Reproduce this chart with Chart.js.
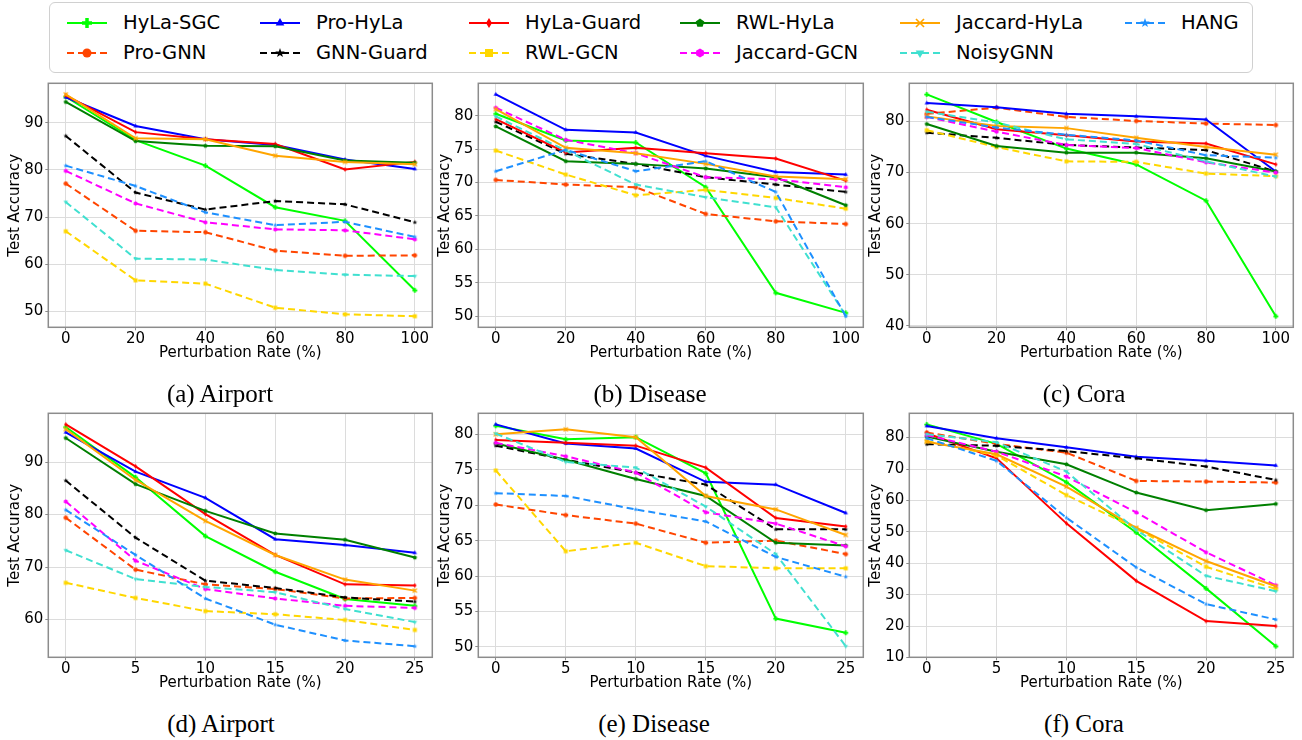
<!DOCTYPE html>
<html>
<head>
<meta charset="utf-8">
<script src="https://cdn.jsdelivr.net/npm/chart.js@4.4.1/dist/chart.umd.min.js"></script>
<style>
  body { margin: 0; width: 1302px; height: 740px; background: #fff; position: relative; overflow: hidden; font-family: "DejaVu Sans", sans-serif; }
  canvas.panel { position: absolute; }
  .caption { position: absolute; font-family: "Liberation Serif", serif; font-size: 25px; line-height: 1; white-space: nowrap; transform: translate(-50%, -50%); color: #000; }
  #legendBox { position: absolute; left: 49px; top: 2px; width: 1202px; height: 69px; border: 1px solid #d0d0d0; border-radius: 6px; }
  .lgIcon { position: absolute; }
  .lgText { position: absolute; font-size: 19.5px; line-height: 1; white-space: nowrap; transform: translateY(-50%); color: #000; }
</style>
</head>
<body>
<div id="legendBox"></div>

<script>
// methods, in the order they were plotted
const methods = ['HyLa-SGC', 'Pro-GNN', 'Pro-HyLa', 'GNN-Guard', 'HyLa-Guard', 'RWL-GCN',
                 'RWL-HyLa', 'Jaccard-GCN', 'Jaccard-HyLa', 'NoisyGNN', 'HANG'];

// perturbation rates (%)
const ratesTop = [0, 20, 40, 60, 80, 100];
const ratesBottom = [0, 5, 10, 15, 20, 25];

// test accuracy, one row per method (same order as methods)
const airportTop = [
  [95.5, 86.3, 80.9, 72.1, 69.2, 54.5],
  [77.1, 67.1, 66.8, 62.9, 61.8, 61.9],
  [95.4, 89.3, 86.5, 85.3, 82.2, 80.2],
  [87.2, 75.2, 71.6, 73.4, 72.7, 68.9],
  [95.8, 88.0, 86.5, 85.5, 80.1, 81.7],
  [67.0, 56.6, 55.9, 50.8, 49.4, 49.0],
  [94.4, 86.1, 85.1, 85.0, 82.0, 81.5],
  [79.8, 72.9, 68.9, 67.4, 67.2, 65.3],
  [96.0, 86.7, 86.5, 83.0, 81.7, 81.2],
  [73.2, 61.2, 61.0, 58.8, 57.8, 57.5],
  [80.9, 76.6, 71.0, 68.3, 69.0, 65.8]
];
const diseaseTop = [
  [80.3, 76.3, 76.0, 69.3, 53.5, 50.5],
  [70.4, 69.7, 69.3, 65.3, 64.2, 63.8],
  [83.2, 77.9, 77.5, 74.0, 71.6, 71.2],
  [79.1, 74.3, 72.8, 70.8, 69.7, 68.6],
  [79.5, 74.5, 75.2, 74.4, 73.6, 70.3],
  [74.8, 71.2, 68.1, 68.9, 67.7, 66.1],
  [78.4, 73.2, 72.8, 72.1, 70.8, 66.6],
  [81.2, 76.4, 74.4, 70.8, 70.5, 69.3],
  [81.0, 75.2, 74.4, 72.8, 70.9, 70.5],
  [79.9, 74.8, 69.7, 67.8, 66.3, 50.1],
  [71.7, 74.9, 71.7, 73.2, 68.6, 50.0]
];
const coraTop = [
  [85.3, 79.9, 74.7, 71.6, 64.5, 41.9],
  [81.5, 82.7, 80.9, 80.1, 79.6, 79.3],
  [83.6, 82.8, 81.5, 81.0, 80.4, 70.2],
  [77.8, 76.8, 75.4, 74.9, 74.4, 70.2],
  [82.3, 78.5, 77.3, 76.1, 75.7, 71.6],
  [78.3, 75.0, 72.2, 72.1, 69.8, 69.3],
  [79.5, 75.2, 73.9, 73.9, 72.8, 70.2],
  [80.9, 78.0, 75.4, 74.8, 72.0, 70.0],
  [81.0, 79.1, 78.7, 76.8, 75.0, 73.5],
  [81.9, 79.8, 76.5, 75.6, 72.2, 69.2],
  [80.9, 78.8, 77.4, 76.3, 73.4, 72.9]
];
const airportBottom = [
  [96.7, 87.1, 75.9, 69.1, 63.9, 62.6],
  [79.4, 69.5, 66.7, 65.8, 64.0, 64.1],
  [95.7, 88.2, 83.2, 75.3, 74.2, 72.7],
  [86.5, 75.6, 67.4, 66.0, 64.2, 63.4],
  [97.2, 89.2, 80.1, 72.3, 66.7, 66.5],
  [67.0, 64.1, 61.6, 61.0, 59.9, 58.0],
  [94.6, 85.8, 80.7, 76.4, 75.2, 71.8],
  [82.5, 71.2, 65.8, 64.0, 62.6, 62.2],
  [96.3, 86.6, 78.8, 72.3, 67.6, 65.5],
  [73.2, 67.7, 66.2, 65.2, 62.0, 59.5],
  [80.9, 72.3, 64.0, 59.0, 56.0, 54.9]
];
const diseaseBottom = [
  [81.2, 79.3, 79.6, 74.5, 54.0, 52.0],
  [70.1, 68.6, 67.4, 64.7, 65.0, 63.1],
  [81.4, 78.7, 78.0, 73.3, 72.9, 68.9],
  [78.4, 76.4, 74.6, 72.9, 66.6, 66.6],
  [79.2, 78.8, 78.4, 75.3, 68.2, 67.0],
  [74.9, 63.5, 64.7, 61.4, 61.1, 61.1],
  [78.7, 76.4, 73.7, 71.3, 64.7, 64.3],
  [78.8, 76.9, 74.6, 69.0, 67.4, 64.2],
  [80.0, 80.7, 79.6, 71.3, 69.4, 65.8],
  [80.1, 76.1, 75.3, 69.8, 63.1, 50.1],
  [71.7, 71.3, 69.4, 67.7, 62.7, 59.9]
];
const coraBottom = [
  [84.2, 78.0, 65.8, 49.8, 32.0, 13.6],
  [81.6, 78.0, 75.2, 66.2, 66.0, 65.7],
  [83.7, 79.8, 76.9, 73.9, 72.6, 71.1],
  [77.9, 77.4, 75.7, 73.4, 70.8, 66.5],
  [81.4, 73.4, 52.7, 34.4, 21.6, 20.0],
  [78.9, 74.3, 61.7, 51.1, 38.9, 31.8],
  [80.3, 75.5, 71.5, 62.5, 56.9, 58.9],
  [80.8, 75.5, 67.6, 56.2, 43.5, 33.0],
  [78.7, 74.7, 64.4, 51.3, 40.7, 32.7],
  [81.1, 78.5, 69.2, 50.6, 36.0, 31.1],
  [79.8, 72.6, 54.5, 38.7, 27.0, 22.1]
];

// y tick labels per panel
const ticksAirportTop = [50, 60, 70, 80, 90];
const ticksDiseaseTop = [50, 55, 60, 65, 70, 75, 80];
const ticksCoraTop = [40, 50, 60, 70, 80];
const ticksAirportBottom = [60, 70, 80, 90];
const ticksDiseaseBottom = [50, 55, 60, 65, 70, 75, 80];
const ticksCoraBottom = [10, 20, 30, 40, 50, 60, 70, 80];

const captions = ['(a) Airport', '(b) Disease', '(c) Cora', '(d) Airport', '(e) Disease', '(f) Cora'];

// look of each method
const styles = {
  'HyLa-SGC':     { color: '#00ff00', dashed: false, marker: 'plus' },
  'Pro-GNN':      { color: '#ff4500', dashed: true,  marker: 'circle' },
  'Pro-HyLa':     { color: '#0000ff', dashed: false, marker: 'triUp' },
  'GNN-Guard':    { color: '#000000', dashed: true,  marker: 'star' },
  'HyLa-Guard':   { color: '#ff0000', dashed: false, marker: 'thinDiamond' },
  'RWL-GCN':      { color: '#ffd700', dashed: true,  marker: 'square' },
  'RWL-HyLa':     { color: '#008000', dashed: false, marker: 'pentagon' },
  'Jaccard-GCN':  { color: '#ff00ff', dashed: true,  marker: 'hexagon' },
  'Jaccard-HyLa': { color: '#ffa500', dashed: false, marker: 'x' },
  'NoisyGNN':     { color: '#40e0d0', dashed: true,  marker: 'triDown' },
  'HANG':         { color: '#1e90ff', dashed: true,  marker: 'star' }
};
const dashPattern = [7, 4];

function poly(ctx, n, r, start) {
  for (let k = 0; k < n; k++) {
    const a = start + k * 2 * Math.PI / n;
    if (k === 0) ctx.moveTo(r * Math.cos(a), r * Math.sin(a));
    else ctx.lineTo(r * Math.cos(a), r * Math.sin(a));
  }
  ctx.closePath();
}

function markerCanvas(shape, color, size) {
  const s = Math.ceil(size) + 4;
  const c = document.createElement('canvas');
  c.width = s; c.height = s;
  const ctx = c.getContext('2d');
  ctx.translate(s / 2, s / 2);
  ctx.fillStyle = color;
  ctx.strokeStyle = color;
  const r = size / 2;
  ctx.beginPath();
  if (shape === 'circle') ctx.arc(0, 0, r * 0.9, 0, Math.PI * 2);
  else if (shape === 'square') ctx.rect(-r * 0.8, -r * 0.8, r * 1.6, r * 1.6);
  else if (shape === 'triUp') poly(ctx, 3, r, -Math.PI / 2);
  else if (shape === 'triDown') poly(ctx, 3, r, Math.PI / 2);
  else if (shape === 'pentagon') poly(ctx, 5, r * 0.9, -Math.PI / 2);
  else if (shape === 'hexagon') poly(ctx, 6, r * 0.9, -Math.PI / 2);
  else if (shape === 'star') {
    for (let k = 0; k < 10; k++) {
      const a = -Math.PI / 2 + k * Math.PI / 5;
      const rr = k % 2 === 0 ? r : r * 0.4;
      if (k === 0) ctx.moveTo(rr * Math.cos(a), rr * Math.sin(a));
      else ctx.lineTo(rr * Math.cos(a), rr * Math.sin(a));
    }
    ctx.closePath();
  } else if (shape === 'thinDiamond') {
    ctx.moveTo(0, -r); ctx.lineTo(r * 0.6, 0); ctx.lineTo(0, r); ctx.lineTo(-r * 0.6, 0); ctx.closePath();
  } else if (shape === 'plus') {
    const w = r * 0.35;
    ctx.rect(-r, -w, 2 * r, 2 * w);
    ctx.rect(-w, -r, 2 * w, 2 * r);
  }
  if (shape === 'x') {
    ctx.lineWidth = Math.max(1.2, size / 6);
    ctx.moveTo(-r * 0.8, -r * 0.8); ctx.lineTo(r * 0.8, r * 0.8);
    ctx.moveTo(r * 0.8, -r * 0.8); ctx.lineTo(-r * 0.8, r * 0.8);
    ctx.stroke();
  } else {
    ctx.fill();
  }
  return c;
}

// spines around the plot area
const framePlugin = {
  id: 'frame',
  afterDatasetsDraw(chart) {
    const { ctx, chartArea: a } = chart;
    ctx.save();
    ctx.strokeStyle = '#8c8c8c';
    ctx.lineWidth = 1.5;
    ctx.strokeRect(a.left, a.top, a.right - a.left, a.bottom - a.top);
    ctx.restore();
  }
};

function padded(values) {
  const lo = Math.min(...values), hi = Math.max(...values);
  const m = (hi - lo) * 0.05;
  return [lo - m, hi + m];
}

function makePanel(box, rates, rows, yTicks) {
  const canvas = document.createElement('canvas');
  canvas.className = 'panel';
  canvas.width = box.w; canvas.height = box.h;
  canvas.style.left = box.x + 'px';
  canvas.style.top = box.y + 'px';
  document.body.appendChild(canvas);

  const [xMin, xMax] = padded(rates);
  const [yMin, yMax] = padded(rows.flat());
  const tickFont = { family: 'DejaVu Sans', size: 15 };
  const titleFont = { family: 'DejaVu Sans', size: 15 };

  const datasets = methods.map((name, i) => {
    const st = styles[name];
    return {
      label: name,
      data: rates.map((x, j) => ({ x: x, y: rows[i][j] })),
      borderColor: st.color,
      backgroundColor: st.color,
      borderWidth: 2,
      borderDash: st.dashed ? dashPattern : [],
      pointStyle: markerCanvas(st.marker, st.color, 5),
      pointRadius: 3,
      tension: 0,
      fill: false,
      order: methods.length - i
    };
  });

  new Chart(canvas, {
    type: 'line',
    data: { datasets: datasets },
    plugins: [framePlugin],
    options: {
      responsive: false,
      animation: false,
      events: [],
      layout: { padding: { top: 8.3, right: box.padRight, left: 0, bottom: 0 } },
      plugins: { legend: { display: false }, tooltip: { enabled: false } },
      scales: {
        x: {
          type: 'linear',
          min: xMin, max: xMax,
          afterBuildTicks: s => { s.ticks = rates.map(v => ({ value: v })); },
          afterFit: s => { s.height = 37.7; s.paddingLeft = 0; s.paddingRight = 0; },
          grid: { color: '#dcdcdc', lineWidth: 1, drawTicks: true, tickLength: 3, tickColor: '#8c8c8c' },
          border: { display: false },
          ticks: { font: tickFont, color: '#000', padding: 0, maxRotation: 0 },
          title: { display: true, text: 'Perturbation Rate (%)', font: titleFont, color: '#000', padding: { top: 0, bottom: 3 } }
        },
        y: {
          type: 'linear',
          min: yMin, max: yMax,
          afterBuildTicks: s => { s.ticks = yTicks.map(v => ({ value: v })); },
          afterFit: s => { s.width = 48.3; s.paddingTop = 0; s.paddingBottom = 0; },
          grid: { color: '#dcdcdc', lineWidth: 1, drawTicks: true, tickLength: 3, tickColor: '#8c8c8c' },
          border: { display: false },
          ticks: { font: tickFont, color: '#000', padding: 2 },
          title: { display: true, text: 'Test Accuracy', font: titleFont, color: '#000', padding: { top: 6.5, bottom: 0 } }
        }
      }
    }
  });
}

const boxes = [
  { x: 0,   y: 75,  w: 440, h: 290, padRight: 7.7 },
  { x: 430, y: 75,  w: 440, h: 290, padRight: 6.7 },
  { x: 861, y: 75,  w: 441, h: 290, padRight: 8.7 },
  { x: 0,   y: 405, w: 440, h: 290, padRight: 7.7 },
  { x: 430, y: 405, w: 440, h: 290, padRight: 6.7 },
  { x: 861, y: 405, w: 441, h: 290, padRight: 8.7 }
];

makePanel(boxes[0], ratesTop, airportTop, ticksAirportTop);
makePanel(boxes[1], ratesTop, diseaseTop, ticksDiseaseTop);
makePanel(boxes[2], ratesTop, coraTop, ticksCoraTop);
makePanel(boxes[3], ratesBottom, airportBottom, ticksAirportBottom);
makePanel(boxes[4], ratesBottom, diseaseBottom, ticksDiseaseBottom);
makePanel(boxes[5], ratesBottom, coraBottom, ticksCoraBottom);

// captions under each panel
const captionPos = [[220, 393], [650, 393], [1084, 393], [221, 723], [654, 723], [1084, 723]];
captions.forEach((txt, i) => {
  const d = document.createElement('div');
  d.className = 'caption';
  d.textContent = txt;
  d.style.left = captionPos[i][0] + 'px';
  d.style.top = captionPos[i][1] + 'px';
  document.body.appendChild(d);
});

// legend, 6 columns filled column by column
const legendColX = [67, 260, 469, 680, 900, 1125];
const legendRowY = [23, 53];
methods.forEach((name, i) => {
  const st = styles[name];
  const col = Math.floor(i / 2), row = i % 2;
  const icon = document.createElement('canvas');
  icon.className = 'lgIcon';
  icon.width = 42; icon.height = 20;
  icon.style.left = (legendColX[col] - 1) + 'px';
  icon.style.top = (legendRowY[row] - 10) + 'px';
  const ctx = icon.getContext('2d');
  ctx.strokeStyle = st.color;
  ctx.lineWidth = 2;
  ctx.setLineDash(st.dashed ? dashPattern : []);
  ctx.beginPath();
  ctx.moveTo(1, 10); ctx.lineTo(41, 10);
  ctx.stroke();
  const mk = markerCanvas(st.marker, st.color, 10);
  ctx.drawImage(mk, 21 - mk.width / 2, 10 - mk.height / 2);
  document.body.appendChild(icon);

  const t = document.createElement('div');
  t.className = 'lgText';
  t.textContent = name;
  t.style.left = (legendColX[col] + 56) + 'px';
  t.style.top = legendRowY[row] + 'px';
  document.body.appendChild(t);
});
</script>
</body>
</html>
